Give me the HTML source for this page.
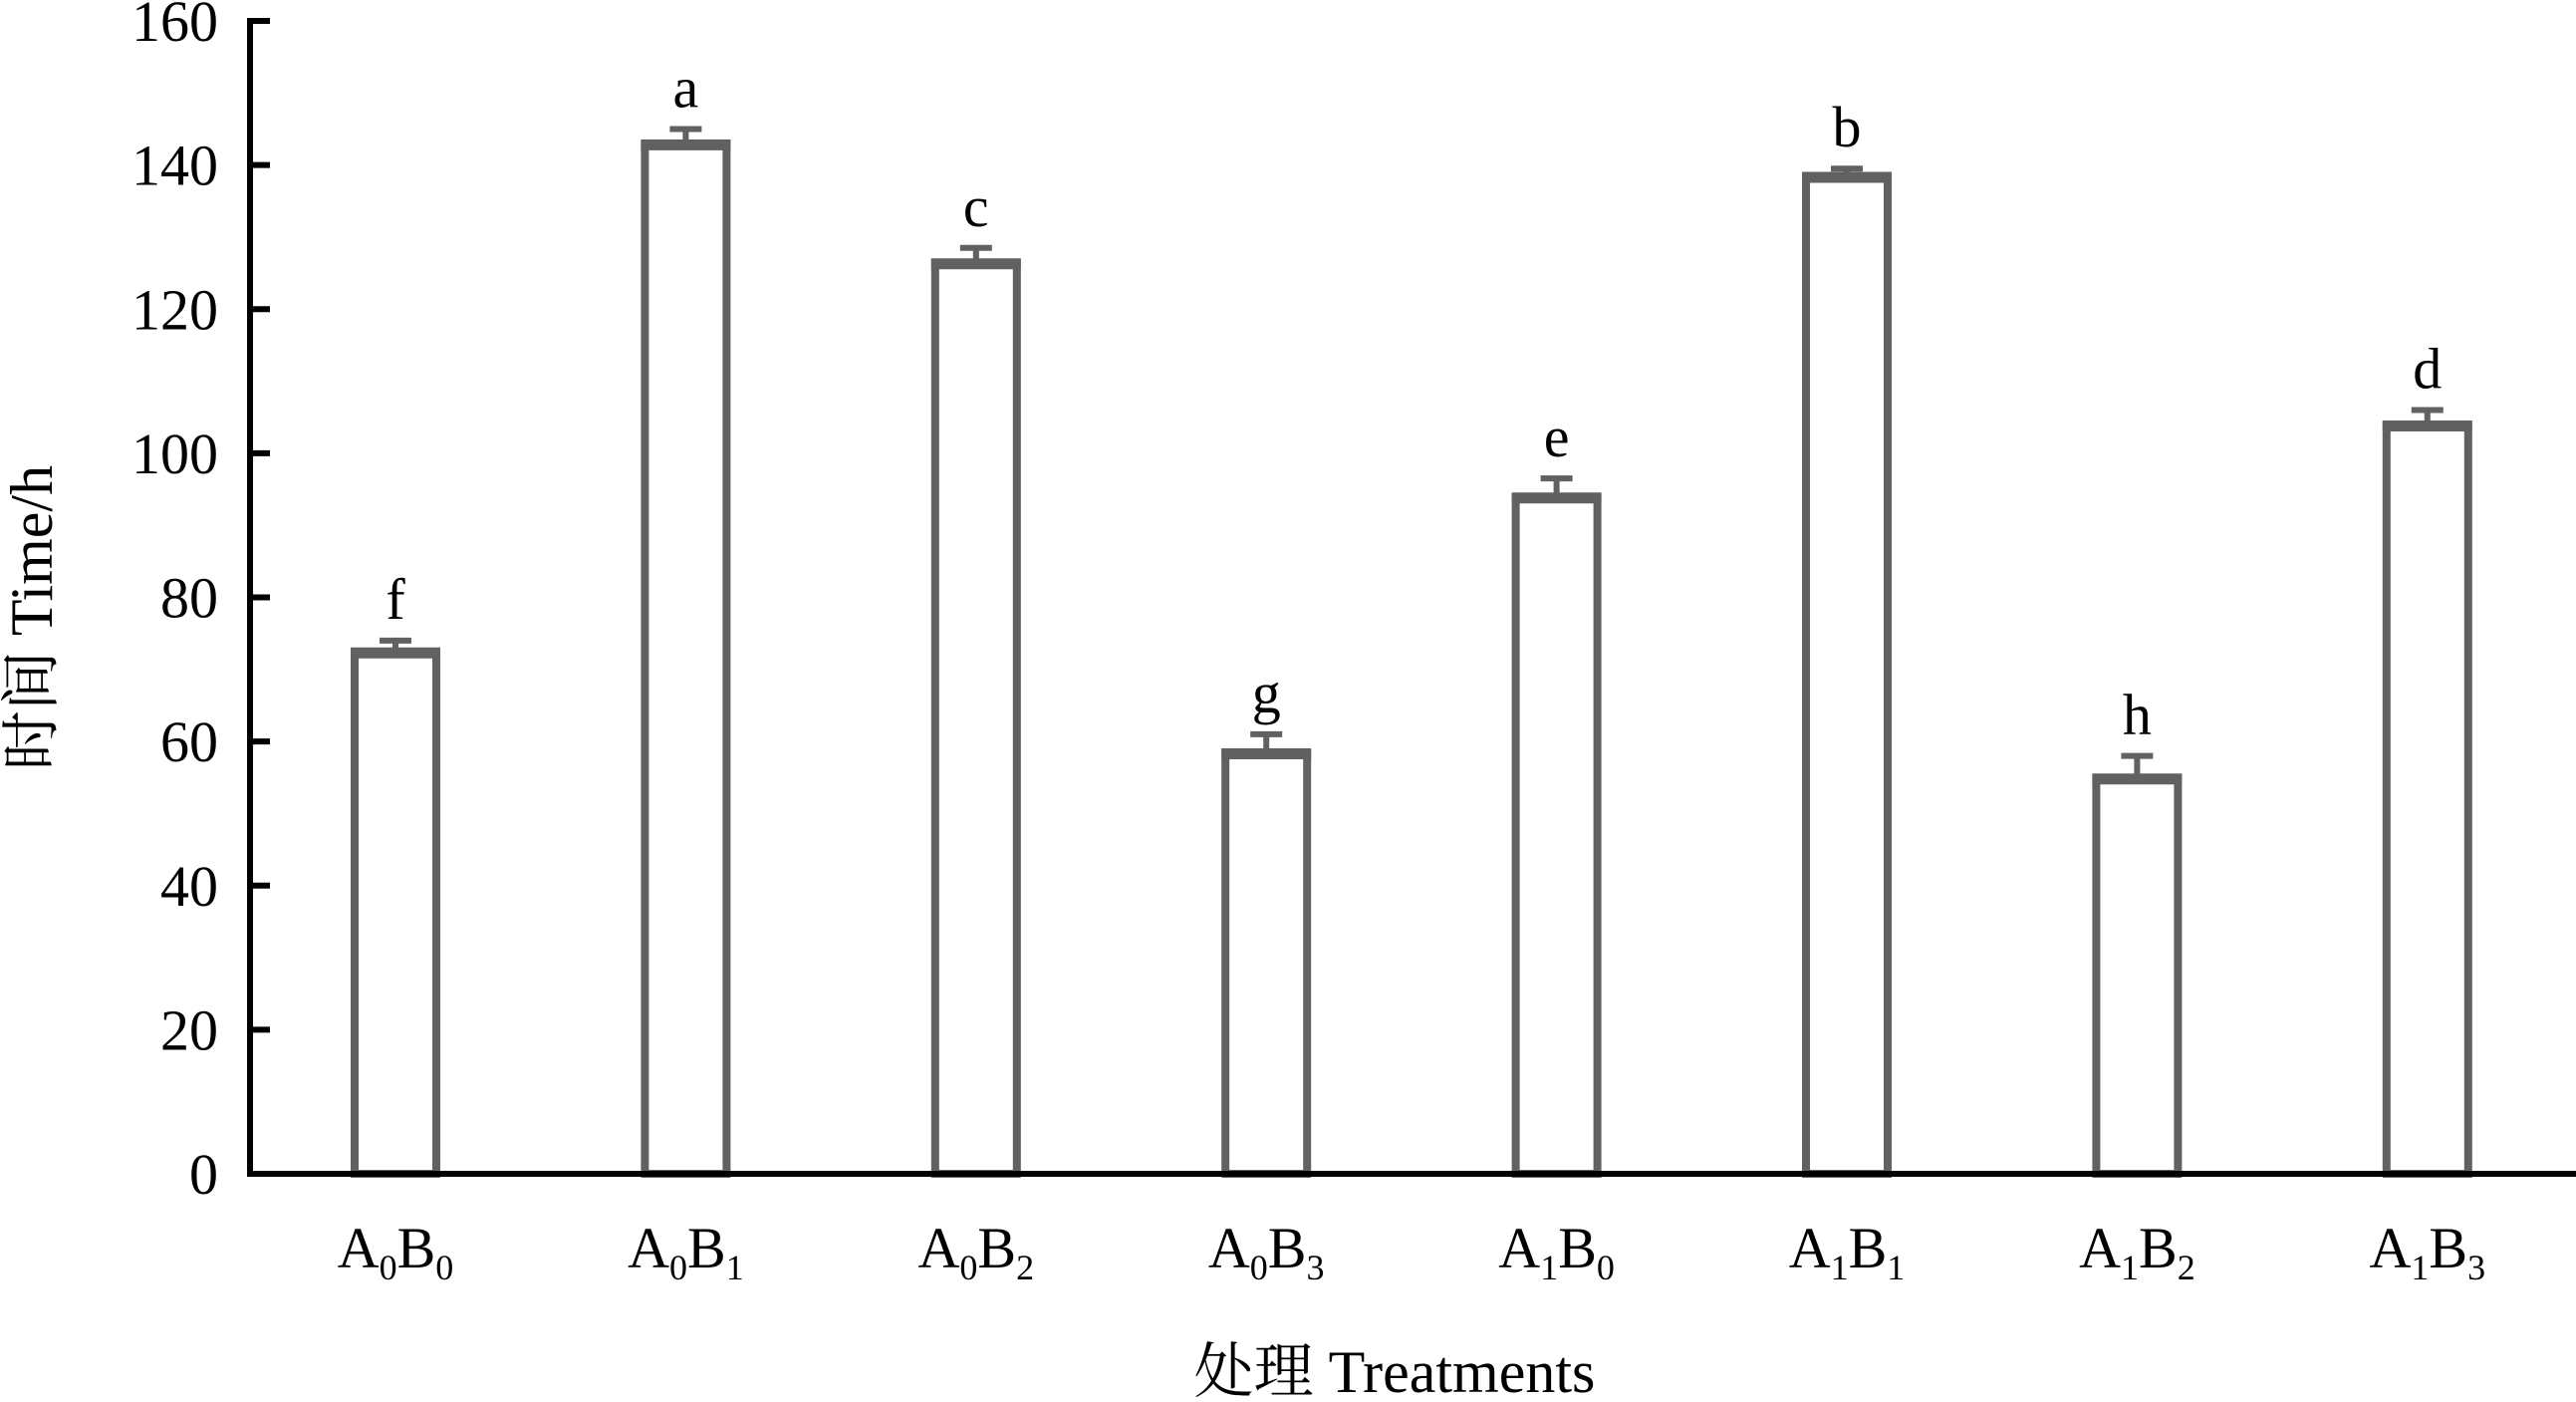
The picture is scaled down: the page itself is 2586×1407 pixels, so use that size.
<!DOCTYPE html>
<html><head><meta charset="utf-8"><style>
html,body{margin:0;padding:0;background:#fff;}
svg{display:block;font-family:"Liberation Serif","Noto Serif CJK SC",serif;}
</style></head><body>
<svg id="chart" width="2586" height="1407" viewBox="0 0 2586 1407" xmlns="http://www.w3.org/2000/svg">
<g id="plot"></g>
<text x="1400" y="1397" font-size="60" text-anchor="middle">处理 Treatments</text>
<text transform="translate(52,620) rotate(-90)" font-size="60" text-anchor="middle">时间 Time/h</text>
</svg>
<script>
const categoriesA = ["0","0","0","0","1","1","1","1"];
const categoriesB = ["0","1","2","3","0","1","2","3"];
const values = [72.5, 143, 126.5, 58.5, 94, 138.5, 55, 104];
const errors = [1.5, 2, 2, 2.5, 2.5, 1, 3, 2];
const sigLetters = ["f","a","c","g","e","b","h","d"];
const yTicks = [0, 20, 40, 60, 80, 100, 120, 140, 160];

const NS = "http://www.w3.org/2000/svg";
const g = document.getElementById("plot");
const x0 = 251, yBase = 1178, yTop = 21, yMax = 160;
const y = v => yBase - (yBase - yTop) * v / yMax;
const step = 291.4, firstX = 397;
const xc = i => firstX + i * step;
const barW = 82, col = "#616161";

function mk(tag, attrs) {
  const e = document.createElementNS(NS, tag);
  for (const k in attrs) e.setAttribute(k, attrs[k]);
  g.appendChild(e);
  return e;
}

values.forEach((v, i) => {
  const cx = xc(i);
  const r = mk("rect", {x: cx - barW/2, y: y(v), width: barW, height: yBase - y(v), fill: "#fff", stroke: col, "stroke-width": 8});
  
  
  const top = mk("line", {x1: cx - barW/2 - 4, x2: cx + barW/2 + 4, y1: y(v) + 2, y2: y(v) + 2, stroke: col, "stroke-width": 10});
  
  
  const e1 = mk("line", {x1: cx, x2: cx, y1: y(v), y2: y(v + errors[i]), stroke: col, "stroke-width": 6});
  
  
  const e2 = mk("line", {x1: cx - 16, x2: cx + 16, y1: y(v + errors[i]), y2: y(v + errors[i]), stroke: col, "stroke-width": 6});
  
  
  const t = mk("text", {x: cx, y: y(v + errors[i]) - 22, "font-size": 58, "text-anchor": "middle"});
  t.textContent = sigLetters[i];
  
  
  const lab = mk("text", {x: cx, y: 1272, "font-size": 58, "text-anchor": "middle"});
  
  
  lab.innerHTML = 'A<tspan font-size="36" dy="12">' + categoriesA[i] + '</tspan><tspan dy="-12">B</tspan><tspan font-size="36" dy="12">' + categoriesB[i] + '</tspan>';
});

yTicks.forEach(v => {
  const tk = mk("line", {x1: x0, x2: x0 + 20, y1: y(v), y2: y(v), stroke: "#000", "stroke-width": 6});
  
  
  const t = mk("text", {x: 219, y: y(v) + 20, "font-size": 58, "text-anchor": "end"});
  t.textContent = v;
  
  
});

const ya = mk("line", {x1: x0, x2: x0, y1: yTop - 3, y2: yBase + 3, stroke: "#000", "stroke-width": 6});


const xa = mk("line", {x1: x0 - 3, x2: 2586, y1: yBase, y2: yBase, stroke: "#000", "stroke-width": 6});


</script>
</body></html>
